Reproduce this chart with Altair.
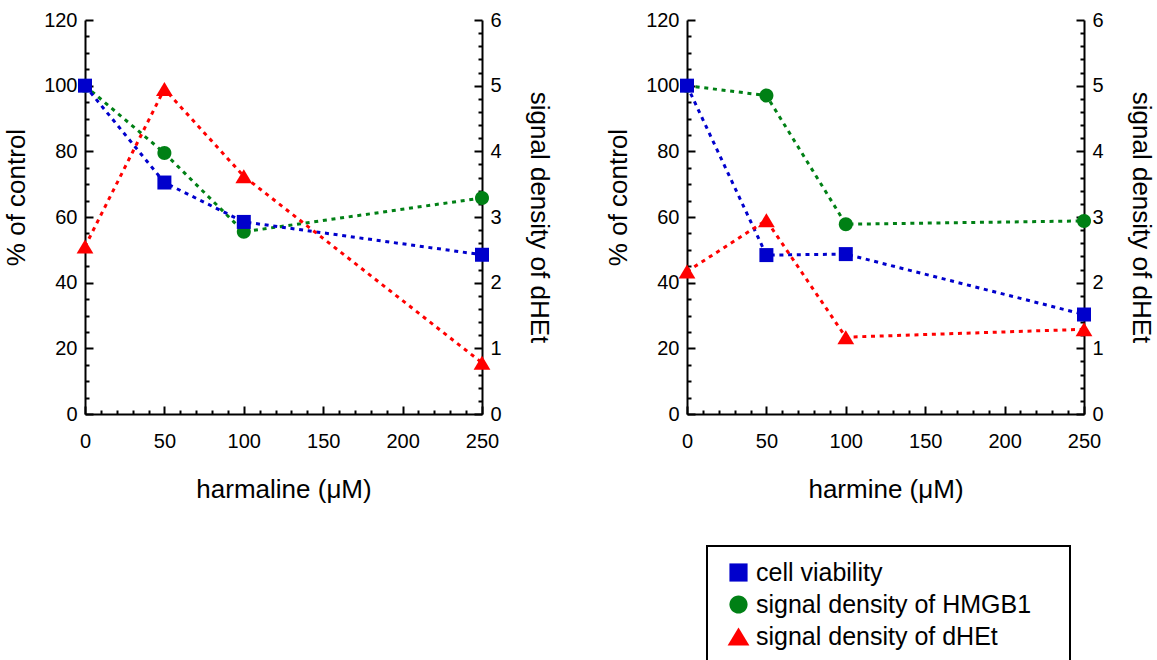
import altair as alt
import pandas as pd

FONT = "Liberation Sans"

doses = [0, 50, 100, 250]
series_names = ["cell viability", "signal density of HMGB1", "signal density of dHEt"]

harmaline_viability = [100, 70.5, 58.5, 48.5]
harmaline_hmgb1 = [100, 79.5, 55.5, 65.8]
harmaline_dhet = [2.55, 4.95, 3.62, 0.78]

harmine_viability = [100, 48.4, 48.7, 30.3]
harmine_hmgb1 = [100, 97.0, 57.8, 58.8]
harmine_dhet = [2.17, 2.95, 1.17, 1.29]

x_ticks = list(range(0, 251, 10))
pct_ticks = list(range(0, 121, 5))
dhet_ticks = [round(i * 0.2, 1) for i in range(31)]

colors = ["#0000cc", "#008015", "#ff0000"]
CIRCLE = "M1,0A1,1,0,1,1,-1,0A1,1,0,1,1,1,0Z"
TRIANGLE = "M0,-1L1.2,1L-1.2,1Z"
shapes = ["square", CIRCLE, TRIANGLE]

DASH = [4, 4.7]

LEGEND = dict(
    title="\u00a0",
    titleOrient="right",
    titlePadding=25,
    orient="none",
    legendX=622,
    legendY=526,
)


def panel(xtitle, via, hmgb, dhet):
    left_df = pd.DataFrame({
        "dose": doses * 2,
        "value": hmgb + via,
        "series": [series_names[1]] * 4 + [series_names[0]] * 4,
    })
    right_df = pd.DataFrame({
        "dose": doses,
        "value": dhet,
        "series": [series_names[2]] * 4,
    })

    x = alt.X(
        "dose:Q",
        scale=alt.Scale(domain=[0, 250], nice=False, zero=False),
        axis=alt.Axis(
            values=x_ticks,
            labelExpr="datum.value % 50 === 0 ? datum.label : ''",
            tickSize={"expr": "datum.value % 50 === 0 ? -8 : -4"},
            labelPadding=25,
            labelFlush=False,
            labelOverlap=False,
            title=xtitle,
            titlePadding=21,
        ),
    )
    y_left = alt.Y(
        "value:Q",
        scale=alt.Scale(domain=[0, 120], nice=False),
        axis=alt.Axis(
            orient="left",
            values=pct_ticks,
            labelExpr="datum.value % 20 === 0 ? datum.label : ''",
            tickSize={"expr": "datum.value % 20 === 0 ? -8 : -4"},
            labelPadding=16,
            labelFlush=False,
            labelOverlap=False,
            title="% of control",
            titlePadding=14,
            titleY=177,
        ),
    )
    y_right = alt.Y(
        "value:Q",
        scale=alt.Scale(domain=[0, 6], nice=False),
        axis=alt.Axis(
            orient="right",
            values=dhet_ticks,
            labelExpr="abs(datum.value - round(datum.value)) < 0.001 ? format(datum.value, 'd') : ''",
            tickSize={"expr": "abs(datum.value - round(datum.value)) < 0.001 ? -8 : -4"},
            labelPadding=16,
            labelFlush=False,
            labelOverlap=False,
            title="signal density of dHEt",
            titlePadding=24,
            titleAngle=90,
        ),
    )
    color = alt.Color("series:N", scale=alt.Scale(domain=series_names, range=colors),
                      legend=alt.Legend(**LEGEND))
    shape = alt.Shape("series:N", scale=alt.Scale(domain=series_names, range=shapes),
                      legend=alt.Legend(**LEGEND))

    pt_mark = dict(filled=True, opacity=1, strokeWidth=0, size=196)

    def line(df, name, y, c):
        return (
            alt.Chart(df)
            .transform_filter(alt.datum.series == name)
            .mark_line(strokeDash=DASH, strokeWidth=3, color=c)
            .encode(x=x, y=y)
        )

    l_green = line(left_df, series_names[1], y_left, colors[1])
    l_blue = line(left_df, series_names[0], y_left, colors[0])
    lp = alt.Chart(left_df).mark_point(**pt_mark).encode(x=x, y=y_left, color=color, shape=shape)
    r_red = line(right_df, series_names[2], y_right, colors[2])
    rp = alt.Chart(right_df).mark_point(**pt_mark).encode(x=x, y=y_right, color=color, shape=shape)

    return alt.layer(
        alt.layer(l_green, l_blue, lp), alt.layer(r_red, rp)
    ).resolve_scale(y="independent").properties(width=397, height=394)


p1 = panel("harmaline (μM)", harmaline_viability, harmaline_hmgb1, harmaline_dhet)
p2 = panel("harmine (μM)", harmine_viability, harmine_hmgb1, harmine_dhet)

chart = (
    alt.hconcat(p1, p2, spacing=53)
    .properties(padding={"left": 3, "top": 10, "right": 2, "bottom": 5})
    .configure_view(stroke=None)
    .configure_axis(
        grid=False,
        domainColor="black",
        domainWidth=2,
        tickColor="black",
        tickWidth=2,
        labelFont=FONT,
        labelFontSize=20,
        labelColor="black",
        titleFont=FONT,
        titleFontSize=26,
        titleFontWeight="normal",
        titleColor="black",
    )
    .configure_legend(
        orient="none",
        legendX=622,
        legendY=526,
        strokeColor="black",
        strokeWidth=2,
        padding=14,
        labelFont=FONT,
        labelFontSize=25,
        labelColor="black",
        labelOffset=5,
        symbolOffset=5,
        symbolSize=330,
        symbolStrokeWidth=0,
        rowPadding=6,
        labelLimit=400,
        titleFont=FONT,
        titleFontSize=25,
    )
)

chart.save("out.html", embed_options={"renderer": "svg", "actions": False})
